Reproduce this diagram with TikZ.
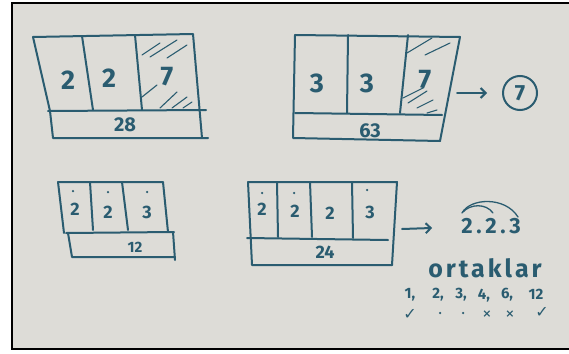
\documentclass[tikz,border=0pt]{standalone}
\usepackage{fontspec}
\setmainfont{Fira Sans}
\newfontfamily\symfont{DejaVu Sans}
\usepackage{tikz}
\usetikzlibrary{arrows.meta,calc}
\definecolor{board}{RGB}{221,220,215}
\definecolor{ink}{RGB}{42,92,112}

\begin{document}
\begin{tikzpicture}[x=1pt,y=-1pt,
  pen/.style={draw=ink,line width=2pt,line cap=round,line join=round},
  hatch/.style={draw=ink,line width=1.1pt,line cap=round},
  big/.style={text=ink,font=\bfseries\fontsize{27}{27}\selectfont,inner sep=0pt},
  mid/.style={text=ink,font=\bfseries\fontsize{18}{18}\selectfont,inner sep=0pt},
  small/.style={text=ink,font=\bfseries\fontsize{15}{15}\selectfont,inner sep=0pt},
  dotmark/.style={fill=ink,circle,inner sep=0pt,minimum size=2.5pt},
  tick/.style={text=ink,font=\symfont\bfseries\fontsize{16}{16}\selectfont,inner sep=0pt},
  cross/.style={text=ink,font=\symfont\bfseries\fontsize{11}{11}\selectfont,inner sep=0pt},
  arr/.style={pen,-{Straight Barb[length=5pt,width=10pt]}}]
\useasboundingbox (0,0) rectangle (569,353);
\fill[white] (0,0) rectangle (569,353);
\filldraw[fill=board,draw=black,line width=2pt] (12,3) rectangle (572,349);

% 2.2.7 = 28
\draw[pen] (33,37) -- (193,34) -- (202,138);
\draw[pen] (33,37) -- (50,111) -- (53,138) -- (208,138);
\draw[pen] (48,111) -- (206,110);
\draw[pen] (82,36) -- (93,110);
\draw[pen] (135,35) -- (142,110);
\draw[hatch] (142,55) -- (160,43);
\draw[hatch] (150,57) -- (177,40);
\draw[hatch] (167,58) -- (187,45);
\draw[hatch] (142,97) -- (157,85);
\draw[hatch] (160,108) -- (177,92);
\draw[hatch] (172,108) -- (187,97);
\draw[hatch] (183,108) -- (192,102);
\node[big] (a1) at (68,80) {2};
\node[big] (a2) at (109,78) {2};
\node[big] (a3) at (167,77) {7};
\node[mid,font=\bfseries\fontsize{20}{20}\selectfont] (a4) at (125,125) {28};

% 3.3.7 = 63
\draw[pen] (295,35) -- (460,37) -- (440,141);
\draw[pen] (295,35) -- (293,138) -- (440,141);
\draw[pen] (295,113) -- (442,115);
\draw[pen] (348,35) -- (347,113);
\draw[pen] (408,35) -- (400,113);
\draw[hatch] (407,53) -- (432,38);
\draw[hatch] (425,55) -- (450,43);
\draw[hatch] (403,98) -- (423,88);
\draw[hatch] (408,103) -- (427,91);
\draw[hatch] (417,108) -- (433,100);
\draw[hatch] (427,113) -- (437,110);
\node[big] (b1) at (317,83) {3};
\node[big] (b2) at (367,83) {3};
\node[big] (b3) at (425,80) {7};
\node[mid,font=\bfseries\fontsize{20}{20}\selectfont] (b4) at (370,131) {63};
\coordinate (b5) at (457,93);
\node[draw=ink,line width=2pt,circle,minimum size=34pt,inner sep=0pt,text=ink,
  font=\bfseries\fontsize{22}{22}\selectfont] (gcd) at (520,93) {7};
\draw[arr,shorten >=15pt] (b5) -- (gcd);

% 2.2.3 = 12
\draw[pen] (58,182) -- (163,182) -- (168,232);
\draw[pen] (58,182) -- (64,233);
\draw[pen] (68,233) -- (72,257) -- (175,257);
\draw[pen] (173,232) -- (175,260);
\draw[pen] (66,233) -- (174,232);
\draw[pen] (90,182) -- (93,230);
\draw[pen] (122,182) -- (128,230);
\node[mid] (c1) at (75,209) {2};
\node[mid] (c2) at (108,212) {2};
\node[mid] (c3) at (147,212) {3};
\node[dotmark] (c1d) at (73,191) {};
\node[dotmark] (c2d) at (108,192) {};
\node[dotmark] (c3d) at (147,192) {};
\node[small] (c4) at (135,247) {12};

% 2.2.2.3 = 24
\draw[pen] (248,182) -- (397,182) -- (392,265);
\draw[pen] (248,182) -- (252,265) -- (392,265);
\draw[pen] (247,238) -- (388,240);
\draw[pen] (277,182) -- (278,237);
\draw[pen] (310,182) -- (312,237);
\draw[pen] (352,182) -- (353,238);
\node[mid] (d1) at (262,209) {2};
\node[mid] (d2) at (295,211) {2};
\node[mid] (d3) at (330,213) {2};
\node[mid] (d4) at (370,212) {3};
\node[dotmark] (d1d) at (262,193) {};
\node[dotmark] (d2d) at (294,193) {};
\node[dotmark] (d4d) at (367,190) {};
\node[mid] (d5) at (325,252) {24};
\coordinate (d6) at (402,229);
\node[text=ink,font=\bfseries\fontsize{22}{22}\selectfont,inner sep=0pt] (prod) at (491,226) {2\,.\,2\,.\,3};
\draw[arr,shorten >=29pt] (d6) -- (prod);
\draw[hatch,line width=1.3pt] (462,213) .. controls (470,198) and (505,196) .. (518,217);
\draw[hatch,line width=1.3pt] (463,212) .. controls (470,204) and (486,203) .. (493,213);

% ortak bolenler
\node[text=ink,font=\bfseries\fontsize{25}{25}\selectfont\addfontfeatures{LetterSpace=12},inner sep=0pt] (ort) at (485,268) {ortaklar};
\node[small] (n1) at (410,295) {1,};
\node[small] (n2) at (438,295) {2,};
\node[small] (n3) at (461,295) {3,};
\node[small] (n4) at (484,296) {4,};
\node[small] (n6) at (507,295) {6,};
\node[small] (n12) at (536,294) {12};
\node[tick] (m1) at (410,314) {✓};
\node[dotmark] (m2) at (440,313) {};
\node[dotmark] (m3) at (463,313) {};
\node[cross] (m4) at (487,314) {×};
\node[cross] (m5) at (510,314) {×};
\node[tick] (m6) at (542,312) {✓};
\end{tikzpicture}
\end{document}
